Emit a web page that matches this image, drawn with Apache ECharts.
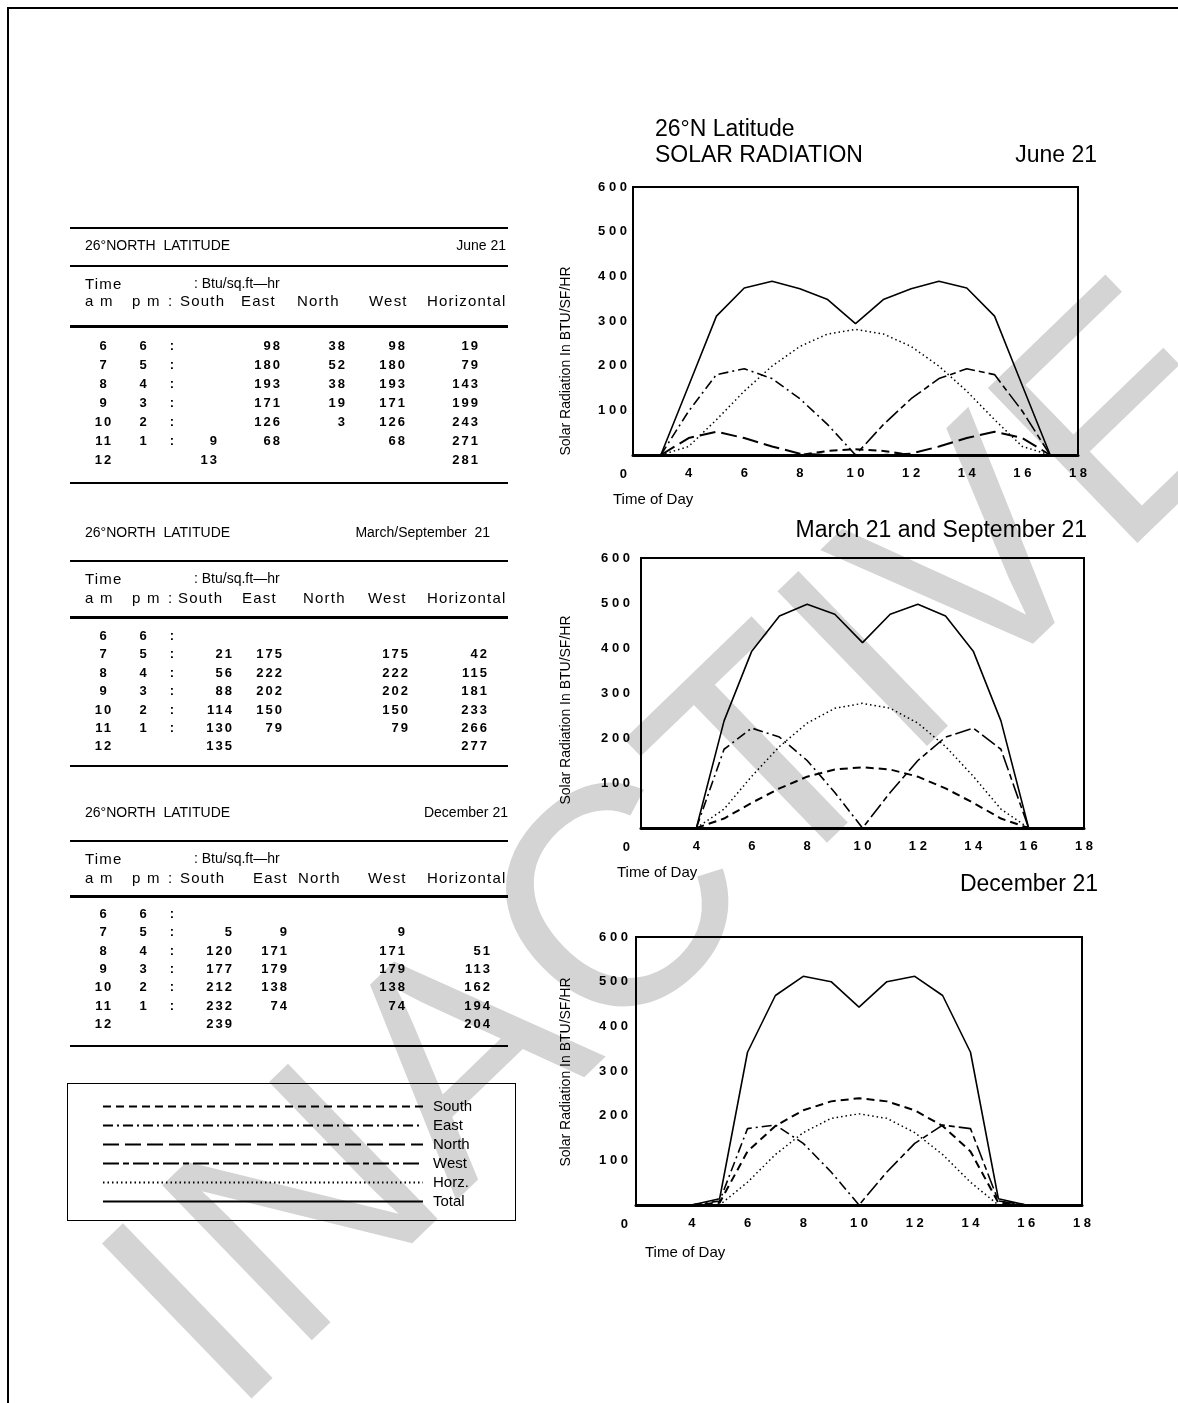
<!DOCTYPE html>
<html>
<head>
<meta charset="utf-8">
<title>26°N Latitude Solar Radiation</title>
<script src="https://cdn.jsdelivr.net/npm/echarts@6.0.0/dist/echarts.min.js"></script>
<style>
  html, body { margin: 0; padding: 0; background: #fff; }
  #page { position: relative; width: 1178px; height: 1403px; overflow: hidden; font-family: 'Liberation Sans', Arial, Helvetica, sans-serif; color: #000; }
  #chart { position: absolute; left: 0; top: 0; width: 1178px; height: 1403px; }
  #tables { position: absolute; left: 0; top: 0; width: 1178px; height: 1403px; pointer-events: none; }
  .frame { position: absolute; background: #000; }
  .t { position: absolute; white-space: pre; line-height: 1; }
  .hd { font-size: 14px; }
  .col { font-size: 15px; letter-spacing: 1.2px; }
  .num { font-size: 13px; font-weight: bold; letter-spacing: 2px; }
  .rule { position: absolute; left: 70px; width: 438px; background: #000; }
  .legend-box { position: absolute; left: 67px; top: 1083px; width: 447px; height: 136px; border: 1.5px solid #000; }
</style>
</head>
<body>
<div id="page">
  <div id="chart"></div>
  <div id="tables">
    <div class="frame" style="left:7px;top:7px;width:1171px;height:2px"></div>
    <div class="frame" style="left:7px;top:7px;width:2px;height:1396px"></div>
    <div class="legend-box"></div>
  </div>
</div>
<script>
// ---- table data (Btu/sq.ft-hr), null = blank cell ----
const amHours = [6, 7, 8, 9, 10, 11, 12];
const pmHours = [6, 5, 4, 3, 2, 1, null];
const colNames = ['South', 'East', 'North', 'West', 'Horizontal'];

const juneSouth = [null, null, null, null, null, 9, 13];
const juneEast = [98, 180, 193, 171, 126, 68, null];
const juneNorth = [38, 52, 38, 19, 3, null, null];
const juneWest = [98, 180, 193, 171, 126, 68, null];
const juneHorz = [19, 79, 143, 199, 243, 271, 281];

const marSouth = [null, 21, 56, 88, 114, 130, 135];
const marEast = [null, 175, 222, 202, 150, 79, null];
const marNorth = [null, null, null, null, null, null, null];
const marWest = [null, 175, 222, 202, 150, 79, null];
const marHorz = [null, 42, 115, 181, 233, 266, 277];

const decSouth = [null, 5, 120, 177, 212, 232, 239];
const decEast = [null, 9, 171, 179, 138, 74, null];
const decNorth = [null, null, null, null, null, null, null];
const decWest = [null, 9, 171, 179, 138, 74, null];
const decHorz = [null, null, 51, 113, 162, 194, 204];

// ---- chart data: x = time of day axis value ----
const seriesNames = ['South', 'East', 'North', 'West', 'Horz.', 'Total'];

const juneX = [3, 4, 5, 6, 7, 8, 9, 10, 11, 12, 13, 14, 15, 16, 17];
const juneLineSouth = [0, 0, 0, 0, 0, 0, 9, 13, 9, 0, 0, 0, 0, 0, 0];
const juneLineEast = [0, 98, 180, 193, 171, 126, 68, 0, 0, 0, 0, 0, 0, 0, 0];
const juneLineNorth = [0, 38, 52, 38, 19, 3, 0, 0, 0, 3, 19, 38, 52, 38, 0];
const juneLineWest = [0, 0, 0, 0, 0, 0, 0, 0, 68, 126, 171, 193, 180, 98, 0];
const juneLineHorz = [0, 19, 79, 143, 199, 243, 271, 281, 271, 243, 199, 143, 79, 19, 0];
const juneLineTotal = [0, 155, 311, 374, 389, 372, 348, 294, 348, 372, 389, 374, 311, 155, 0];

const marX = [4, 5, 6, 7, 8, 9, 10, 11, 12, 13, 14, 15, 16];
const marLineSouth = [0, 21, 56, 88, 114, 130, 135, 130, 114, 88, 56, 21, 0];
const marLineEast = [0, 175, 222, 202, 150, 79, 0, 0, 0, 0, 0, 0, 0];
const marLineNorth = [0, 0, 0, 0, 0, 0, 0, 0, 0, 0, 0, 0, 0];
const marLineWest = [0, 0, 0, 0, 0, 0, 0, 79, 150, 202, 222, 175, 0];
const marLineHorz = [0, 42, 115, 181, 233, 266, 277, 266, 233, 181, 115, 42, 0];
const marLineTotal = [0, 238, 393, 471, 497, 475, 412, 475, 497, 471, 393, 238, 0];

const decX = [4, 5, 6, 7, 8, 9, 10, 11, 12, 13, 14, 15, 16];
const decLineSouth = [0, 5, 120, 177, 212, 232, 239, 232, 212, 177, 120, 5, 0];
const decLineEast = [0, 9, 171, 179, 138, 74, 0, 0, 0, 0, 0, 0, 0];
const decLineNorth = [0, 0, 0, 0, 0, 0, 0, 0, 0, 0, 0, 0, 0];
const decLineWest = [0, 0, 0, 0, 0, 0, 0, 74, 138, 179, 171, 9, 0];
const decLineHorz = [0, 0, 51, 113, 162, 194, 204, 194, 162, 113, 51, 0, 0];
const decLineTotal = [0, 14, 342, 469, 512, 500, 443, 500, 512, 469, 342, 14, 0];

const yTicks = [0, 100, 200, 300, 400, 500, 600];

// ---- tables ----
const layer = document.getElementById('tables');

function put(x, y, str, cls, align) {
  const el = document.createElement('div');
  el.className = 't ' + cls;
  el.textContent = str;
  el.style.left = x + 'px';
  el.style.top = y + 'px';
  const dx = align === 'right' ? '-100%' : align === 'center' ? '-50%' : '0';
  el.style.transform = 'translate(' + dx + ',-50%)';
  layer.appendChild(el);
}

function rule(y, h) {
  const el = document.createElement('div');
  el.className = 'rule';
  el.style.top = y + 'px';
  el.style.height = h + 'px';
  layer.appendChild(el);
}

const tables = [
  { title: 'June 21', titleX: 506, cols: [juneSouth, juneEast, juneNorth, juneWest, juneHorz],
    topRule: 227, head: 245, rule1: 265, time: 283, colHead: 300, rule2: 325, row0: 345, step: 19, bottom: 482,
    colLeft: [180, 241, 297, 369, 427], numRight: [219, 282, 347, 407, 480] },
  { title: 'March/September  21', titleX: 490, cols: [marSouth, marEast, marNorth, marWest, marHorz],
    topRule: null, head: 532, rule1: 560, time: 578, colHead: 597, rule2: 616, row0: 635, step: 18.4, bottom: 765,
    colLeft: [178, 242, 303, 368, 427], numRight: [234, 284, 347, 410, 489] },
  { title: 'December 21', titleX: 508, cols: [decSouth, decEast, decNorth, decWest, decHorz],
    topRule: null, head: 812, rule1: 840, time: 858, colHead: 877, rule2: 895, row0: 913, step: 18.3, bottom: 1045,
    colLeft: [180, 253, 298, 368, 427], numRight: [234, 289, 347, 407, 492] }
];

tables.forEach(function (tb) {
  if (tb.topRule) rule(tb.topRule, 2);
  put(85, tb.head, '26°NORTH  LATITUDE', 'hd');
  put(tb.titleX, tb.head, tb.title, 'hd', 'right');
  rule(tb.rule1, 2);
  put(85, tb.time, 'Time', 'col');
  put(194, tb.time, ': Btu/sq.ft—hr', 'hd');
  put(85, tb.colHead, 'a m', 'col');
  put(132, tb.colHead, 'p m', 'col');
  put(168, tb.colHead, ':', 'col');
  colNames.forEach(function (c, k) { put(tb.colLeft[k], tb.colHead, c, 'col'); });
  rule(tb.rule2, 3);
  amHours.forEach(function (h, i) {
    const y = tb.row0 + i * tb.step;
    put(104, y, String(h), 'num', 'center');
    if (pmHours[i] !== null) {
      put(144, y, String(pmHours[i]), 'num', 'center');
      put(173, y, ':', 'num', 'center');
    }
    tb.cols.forEach(function (col, k) {
      if (col[i] !== null) put(tb.numRight[k], y, String(col[i]), 'num', 'right');
    });
  });
  rule(tb.bottom, 2);
});

// ---- charts ----
const FONT = "'Liberation Sans', Arial, Helvetica, sans-serif";
const dashes = [[8, 5], [10, 4, 2, 4], [16, 6], [16, 4, 6, 4], [1.5, 3], 'solid'];
const widths = [2, 1.6, 2, 1.6, 1.5, 1.6];

function spaced(v) {
  return String(v).split('').join(' ');
}

const grids = [
  { left: 633, top: 187, width: 445, height: 268, labelMargin: 6 },
  { left: 641, top: 558, width: 443, height: 270, labelMargin: 11 },
  { left: 636, top: 937, width: 446, height: 268, labelMargin: 8 }
];

const chartData = [
  { x: juneX, lines: [juneLineSouth, juneLineEast, juneLineNorth, juneLineWest, juneLineHorz, juneLineTotal] },
  { x: marX, lines: [marLineSouth, marLineEast, marLineNorth, marLineWest, marLineHorz, marLineTotal] },
  { x: decX, lines: [decLineSouth, decLineEast, decLineNorth, decLineWest, decLineHorz, decLineTotal] }
];

const series = [];
chartData.forEach(function (cd, g) {
  seriesNames.forEach(function (name, k) {
    series.push({
      name: name,
      type: 'line',
      xAxisIndex: g,
      yAxisIndex: g,
      data: cd.x.map(function (x, i) { return [x, cd.lines[k][i]]; }),
      symbol: 'none',
      silent: true,
      itemStyle: { color: '#000' },
      lineStyle: { color: '#000', width: widths[k], type: dashes[k] }
    });
  });
});

function textEl(x, y, text, size, align, extra) {
  return Object.assign({
    type: 'text',
    x: x,
    y: y,
    style: {
      text: text,
      font: size + 'px ' + FONT,
      fill: '#000',
      align: align || 'left',
      verticalAlign: 'middle'
    }
  }, extra || {});
}

const option = {
  animation: false,
  backgroundColor: 'transparent',
  textStyle: { fontFamily: FONT, color: '#000' },
  grid: grids.map(function (g) {
    return { left: g.left, top: g.top, width: g.width, height: g.height, show: true,
      borderColor: '#000', borderWidth: 2, backgroundColor: 'transparent' };
  }),
  xAxis: grids.map(function (g, i) {
    return {
      type: 'value', gridIndex: i, min: 2, max: 18, interval: 2,
      axisLine: { show: true, lineStyle: { color: '#000', width: 3 } },
      axisTick: { show: false },
      splitLine: { show: false },
      axisLabel: {
        margin: 12, fontSize: 13, fontWeight: 'bold', color: '#000',
        formatter: function (v) { return v === 2 ? '' : spaced(v); }
      }
    };
  }),
  yAxis: grids.map(function (g, i) {
    return {
      type: 'value', gridIndex: i, min: yTicks[0], max: yTicks[yTicks.length - 1], interval: 100,
      axisLine: { show: true, lineStyle: { color: '#000', width: 2 } },
      axisTick: { show: false },
      splitLine: { show: false },
      axisLabel: {
        margin: g.labelMargin, fontSize: 13, fontWeight: 'bold', color: '#000',
        formatter: function (v) { return v === 0 ? '{z|0}' : spaced(v); },
        rich: { z: { padding: [38, 0, 0, 0], fontSize: 13, fontWeight: 'bold', color: '#000', fontFamily: FONT } }
      }
    };
  }),
  legend: {
    orient: 'vertical',
    left: 102,
    top: 1099,
    padding: 0,
    itemWidth: 320,
    itemHeight: 14,
    itemGap: 4,
    selectedMode: false,
    data: seriesNames,
    itemStyle: { opacity: 0 },
    textStyle: { fontSize: 15, color: '#000', fontFamily: FONT, padding: [0, 0, 0, 5] }
  },
  graphic: [
    {
      type: 'text', x: 690, y: 855, rotation: 44 * Math.PI / 180, z: -10,
      style: { text: 'INACTIVE', font: '313px ' + FONT, fill: '#d4d4d4', align: 'center', verticalAlign: 'middle' }
    },
    textEl(655, 130, '26°N Latitude', 23),
    textEl(655, 156, 'SOLAR RADIATION', 23),
    textEl(1097, 156, 'June 21', 23, 'right'),
    textEl(1087, 531, 'March 21 and September 21', 23, 'right'),
    textEl(1098, 885, 'December 21', 23, 'right'),
    textEl(613, 500, 'Time of Day', 15),
    textEl(617, 873, 'Time of Day', 15),
    textEl(645, 1253, 'Time of Day', 15),
    textEl(566, 361, 'Solar Radiation In BTU/SF/HR', 14, 'center', { rotation: Math.PI / 2 }),
    textEl(566, 710, 'Solar Radiation In BTU/SF/HR', 14, 'center', { rotation: Math.PI / 2 }),
    textEl(566, 1072, 'Solar Radiation In BTU/SF/HR', 14, 'center', { rotation: Math.PI / 2 })
  ],
  series: series
};

const chart = echarts.init(document.getElementById('chart'), null, { renderer: 'canvas' });
chart.setOption(option);
</script>
</body>
</html>
